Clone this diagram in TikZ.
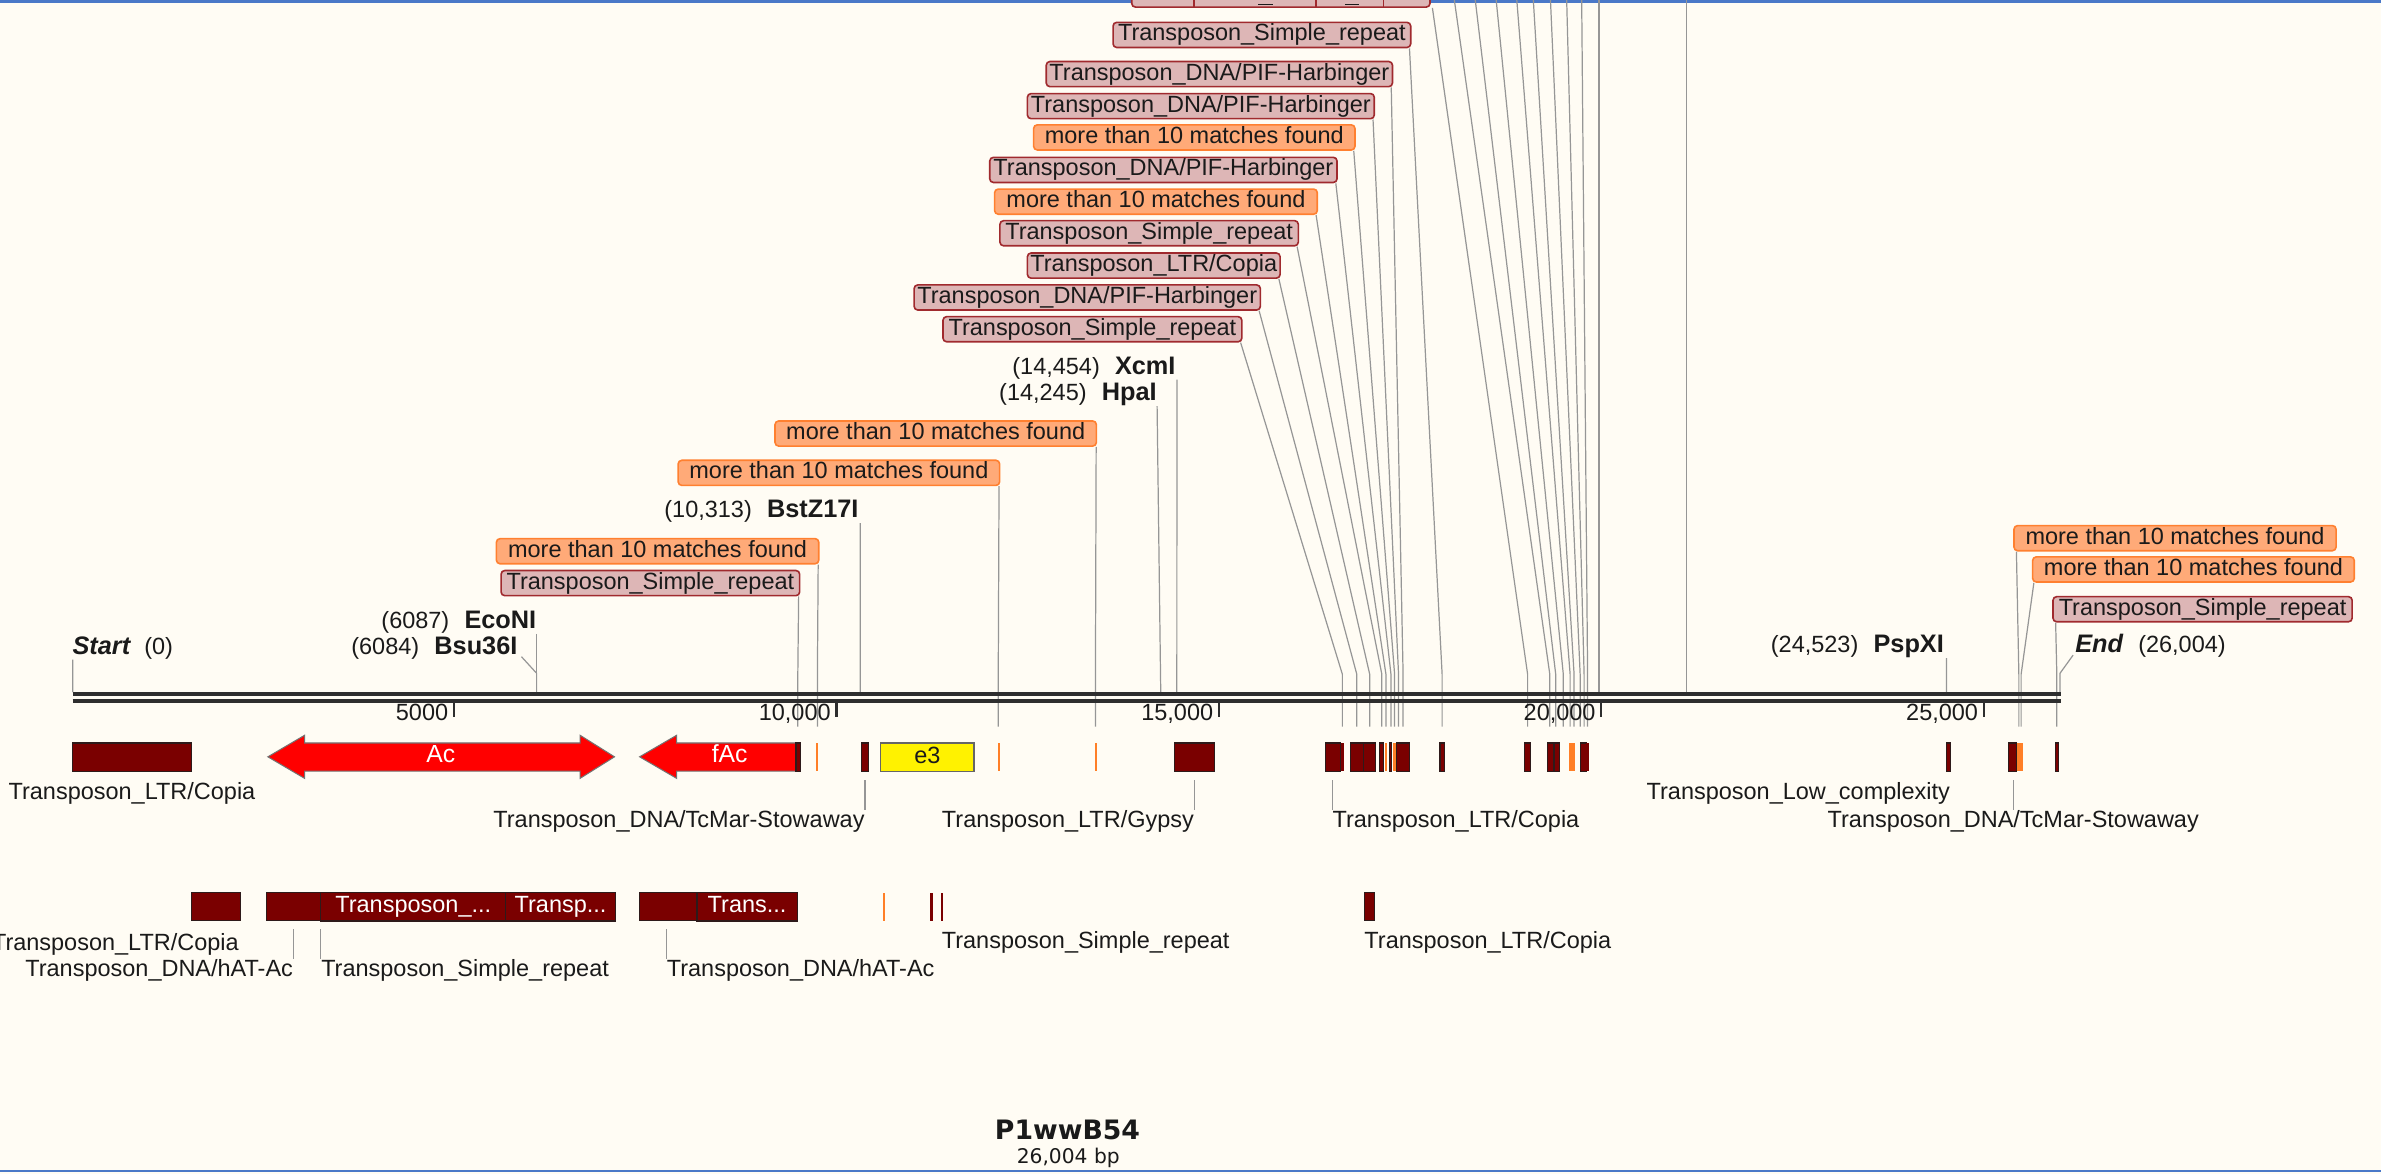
\documentclass[tikz,border=0pt]{standalone}
\usepackage{fontspec}
\setmainfont{Liberation Sans}
\newfontfamily\djvfont{DejaVu Sans}
\usetikzlibrary{calc}
\definecolor{bgc}{HTML}{FFFCF4}
\definecolor{frameblue}{HTML}{4A78C8}
\definecolor{pinkfill}{HTML}{DDB6B6}
\definecolor{pinkedge}{HTML}{A02A2E}
\definecolor{orfill}{HTML}{FFAA78}
\definecolor{oredge}{HTML}{FF8030}
\definecolor{darkred}{HTML}{7A0000}
\definecolor{darkedge}{HTML}{2E1A1A}
\definecolor{orbar}{HTML}{FF7F27}
\definecolor{leadgray}{HTML}{969696}
\definecolor{axisc}{HTML}{2E2E2E}
\definecolor{txt}{HTML}{1A1A1A}
\newcommand\lblsize{\fontsize{11.6}{13.5}\selectfont}
\newcommand\enzsize{\bfseries\fontsize{12.5}{14.5}\selectfont}
\newcommand\labbox[6]{\node[#5, minimum width={(#3-#2)*0.75pt}] (#1) at ({(#2+#3)/2},#4) {#6};}
\newcommand\leadto[3]{\coordinate (#1b) at (#3,444); \coordinate (#1e) at (#3,478.5); \draw[lead] (#2) -- (#1b) -- (#1e);}
\newcommand\ftA[2]{\path[fdark] (#1,489.3) rectangle (#2,508);}
\newcommand\ftAn[2]{\fill[darkred] (#1,489.3) rectangle (#2,508);}
\newcommand\ftAo[2]{\fill[orbar] (#1,489.3) rectangle (#2,508);}
\newcommand\ftB[2]{\path[fdark] (#1,587.8) rectangle (#2,606.5);}
\newcommand\ftBo[2]{\fill[orbar] (#1,587.8) rectangle (#2,606.5);}
\begin{document}
\begin{tikzpicture}[x=0.75pt,y=-0.75pt,
  every node/.style={font=\lblsize, text=txt, inner sep=0pt, text height=8.4pt, text depth=2.4pt},
  tbox/.style={draw=pinkedge, fill=pinkfill, line width=0.8pt, rounded corners=1.8pt, minimum height=12.4pt},
  obox/.style={draw=oredge, fill=orfill, line width=0.8pt, rounded corners=1.8pt, minimum height=12.4pt},
  fdbox/.style={draw=darkedge, fill=darkred, line width=0.6pt, minimum height=14pt, text=white},
  fdark/.style={fill=darkred, draw=darkedge, line width=0.5pt},
  lead/.style={draw=leadgray, line width=0.6pt},
  axisline/.style={draw=axisc, line width=2.1pt},
  tickline/.style={draw=axisc, line width=1.2pt},
  arrowc/.style={fill=red, draw=black!55, line width=0.5pt}
]
\useasboundingbox (0,0) rectangle (1568,773);
\clip (0,0) rectangle (1568,773);
\fill[bgc] (0,0) rectangle (1568,773);
\draw[frameblue, line width=1pt] (0,1) -- (1568,1);
\draw[frameblue, line width=1pt] (0,771.3) -- (1568,771.3);

% ---------- leaders from above ----------
\node[tbox, minimum width={196.4*0.75pt}] (T0) at (843.5,-3.6) {};
\draw[pinkedge, line width=0.8pt] (786.5,-12) -- (786.5,4.8);
\draw[pinkedge, line width=0.8pt] (866.6,-12) -- (866.6,4.8);
\draw[pinkedge, line width=0.8pt] (911,-12) -- (911,4.8);
\draw[txt, line width=0.9pt] (828.6,3) -- (838.4,3);
\draw[txt, line width=0.9pt] (885.7,3) -- (895,3);
\leadto{T0}{[xshift=0.8pt]T0.south east}{1006}
\coordinate (Ta) at (957.6,-1); \leadto{Ta}{Ta}{1020.6}
\coordinate (Tb) at (971.4,-1); \leadto{Tb}{Tb}{1024.5}
\coordinate (Tc) at (985.2,-1); \leadto{Tc}{Tc}{1029.5}
\coordinate (Td) at (998.8,-1); \leadto{Td}{Td}{1034}
\coordinate (Te) at (1009.7,-1); \leadto{Te}{Te}{1036.6}
\coordinate (Tf) at (1021,-1); \leadto{Tf}{Tf}{1040.6}
\coordinate (Tg) at (1031.7,-1); \leadto{Tg}{Tg}{1043.2}
\coordinate (Th) at (1041.6,-1); \leadto{Th}{Th}{1045.5}
\coordinate (Vt1) at (1053,-1); \coordinate (Vb1) at (1053,455.8);
\draw[lead] (Vt1) -- (Vb1);
\coordinate (Vt2) at (1110.5,-1); \coordinate (Vb2) at (1110.5,455.8);
\draw[lead] (Vt2) -- (Vb2);

% label boxes
\labbox{C10}{733}{929}{23}{tbox}{Transposon\_Simple\_repeat}
\labbox{C9}{689}{917}{48.8}{tbox}{Transposon\_DNA/PIF-Harbinger}
\labbox{C8}{676.6}{905}{69.9}{tbox}{Transposon\_DNA/PIF-Harbinger}
\labbox{C7}{680.7}{892.3}{90.5}{obox}{more than 10 matches found}
\labbox{C6}{651.8}{880.5}{111.9}{tbox}{Transposon\_DNA/PIF-Harbinger}
\labbox{C5}{655}{867.5}{132.8}{obox}{more than 10 matches found}
\labbox{C4}{658.5}{855}{153.6}{tbox}{Transposon\_Simple\_repeat}
\labbox{C3}{676.6}{843}{174.9}{tbox}{Transposon\_LTR/Copia}
\labbox{C2}{602}{830}{195.9}{tbox}{Transposon\_DNA/PIF-Harbinger}
\labbox{C1}{621}{817.8}{216.8}{tbox}{Transposon\_Simple\_repeat}
\labbox{L4}{510.4}{722}{285.5}{obox}{more than 10 matches found}
\labbox{L3}{446.6}{658.3}{311.4}{obox}{more than 10 matches found}
\labbox{L2}{326.9}{539.2}{363}{obox}{more than 10 matches found}
\labbox{L1}{330}{526.6}{384}{tbox}{Transposon\_Simple\_repeat}
\labbox{R1}{1326.3}{1538.4}{354.4}{obox}{more than 10 matches found}
\labbox{R2}{1338.6}{1550.4}{375}{obox}{more than 10 matches found}
\labbox{R3}{1352}{1549}{401.2}{tbox}{Transposon\_Simple\_repeat}

\leadto{C1}{[xshift=-1pt]C1.south east}{884}
\leadto{C2}{[xshift=-1pt]C2.south east}{893.5}
\leadto{C3}{[xshift=-1pt]C3.south east}{902}
\leadto{C4}{[xshift=-1pt]C4.south east}{910}
\leadto{C5}{[xshift=-1pt]C5.south east}{912.7}
\leadto{C6}{[xshift=-1pt]C6.south east}{916}
\leadto{C7}{[xshift=-1pt]C7.south east}{918.4}
\leadto{C8}{[xshift=-1pt]C8.south east}{921}
\leadto{C9}{[xshift=-1pt]C9.south east}{924}
\leadto{C10}{[xshift=-1pt]C10.south east}{949.7}
\leadto{L1}{[xshift=-0.9pt]L1.south east}{525.4}
\leadto{L2}{[xshift=-0.7pt]L2.south east}{538.3}
\leadto{L3}{[xshift=-0.7pt]L3.south east}{657.4}
\leadto{L4}{[xshift=-0.5pt]L4.south east}{721.4}
\leadto{R1}{[xshift=1.6pt]R1.south west}{1329.5}
\leadto{R2}{[xshift=1pt]R2.south west}{1331}
\leadto{R3}{[xshift=1.7pt]R3.south west}{1354.5}

% ---------- enzyme labels ----------
\node[anchor=west] (startlbl) at (47.5,427) {{\enzsize\itshape Start}\hspace{7pt}(0)};
\node[anchor=east] (eco) at (353.4,410) {(6087)\hspace{7.5pt}{\enzsize EcoNI}};
\node[anchor=east] (bsu) at (341,427) {(6084)\hspace{7.5pt}{\enzsize Bsu36I}};
\node[anchor=east] (bst) at (565.6,337) {(10,313)\hspace{7.5pt}{\enzsize BstZ17I}};
\node[anchor=east] (hpa) at (762,260) {(14,245)\hspace{7.5pt}{\enzsize HpaI}};
\node[anchor=east] (xcm) at (774.4,242.6) {(14,454)\hspace{7.5pt}{\enzsize XcmI}};
\node[anchor=east] (psp) at (1280.4,426) {(24,523)\hspace{7.5pt}{\enzsize PspXI}};
\node[anchor=west] (endlbl) at (1366.4,426) {{\enzsize\itshape End}\hspace{7.5pt}(26,004)};

\coordinate (aStart) at (47.9,455.8);
\coordinate (a6087) at (353.4,455.8);
\coordinate (k6084) at (353.4,443.4);
\coordinate (a10313) at (566.5,455.8);
\coordinate (a14245) at (764.4,455.8);
\coordinate (a14454) at (775,455.8);
\coordinate (a24523) at (1281.9,455.8);
\coordinate (kEnd) at (1356.6,443.4);
\coordinate (aEnd) at (1356.6,455.8);
\draw[lead] ([xshift=0.3pt]startlbl.south west) -- (aStart);
\draw[lead] (eco.south east) -- (a6087);
\draw[lead] ([xshift=1.8pt,yshift=1.5pt]bsu.south east) -- (k6084) -- (a6087);
\draw[lead] ([xshift=0.7pt]bst.south east) -- (a10313);
\draw[lead] (hpa.south east) -- (a14245);
\draw[lead] ([xshift=0.5pt]xcm.south east) -- (a14454);
\draw[lead] ([xshift=1.1pt]psp.south east) -- (a24523);
\draw[lead] ([xshift=-0.9pt,yshift=1.5pt]endlbl.south west) -- (kEnd) -- (aEnd);

% ---------- axis ----------
\draw[axisline] (47.9,456.8) -- (1357.2,456.8);
\draw[axisline] (47.9,461.8) -- (1357.2,461.8);
\foreach \tx/\tl [count=\ti] in {298.9/5000, 550.8/{10,000}, 802.7/{15,000}, 1054.5/{20,000}, 1306.4/{25,000}} {
  \draw[tickline] (\tx,462) -- (\tx,472.5);
  \node[anchor=east] (tick\ti) at (\tx-3.5,470.5) {\tl};
}

% ---------- feature row 1 ----------
\ftA{47.9}{126}
\path[arrowc] (176.4,498.4) -- (200.6,484.2) -- (200.6,489.3) -- (382,489.3) -- (382,484.2) -- (404.7,498.4) -- (382,512.6) -- (382,507.8) -- (200.6,507.8) -- (200.6,512.6) -- cycle;
\node[text=white, font=\fontsize{12.2}{14}\selectfont] (acLbl) at (290.3,498.4) {Ac};
\path[arrowc] (421.2,498.4) -- (445.6,484.2) -- (445.6,489.3) -- (524.2,489.3) -- (524.2,507.8) -- (445.6,507.8) -- (445.6,512.6) -- cycle;
\node[text=white, font=\fontsize{12.2}{14}\selectfont] (facLbl) at (480.5,498.4) {fAc};
\ftA{524.2}{527}
\ftAo{537.6}{539}
\ftA{567.5}{571.8}
\node[draw=black!60, fill=yellow, line width=0.6pt, minimum width={61.4*0.75pt}, minimum height={18.7*0.75pt}] (e3) at (610.7,498.65) {e3};
\ftAo{657}{658.4}
\ftAo{721}{722.4}
\ftA{773.6}{800}
\ftA{873}{882.5}
\ftAn{883.1}{885.3}
\ftA{889.5}{897.8}
\ftA{897.8}{905.9}
\ftA{908.3}{911}
\ftAo{912.1}{913.4}
\ftA{915}{916.5}
\ftAo{917.6}{919.1}
\ftA{919.8}{928.1}
\ftA{948.3}{951.2}
\ftA{1003.8}{1007.6}
\ftA{1019.2}{1022.9}
\ftA{1023.6}{1026.7}
\ftAo{1033.5}{1035}
\ftAo{1035.4}{1037.2}
\ftA{1040.9}{1044.5}
\ftAn{1044.5}{1046.2}
\ftA{1282}{1284.4}
\ftA{1322.4}{1328.1}
\ftAo{1328.1}{1331.9}
\ftA{1353.4}{1355.8}

% row 1 labels
\node (lCoA) at (86.9,522.4) {Transposon\_LTR/Copia};
\node[anchor=east] (lLow) at (1284.4,522.8) {Transposon\_Low\_complexity};
\coordinate (fTcA) at (569.6,513.7);
\node[anchor=east] (lTcA) at (569.6,541) {Transposon\_DNA/TcMar-Stowaway};
\draw[lead] (fTcA) -- (lTcA.north east);
\coordinate (fGy) at (786.5,513.7);
\node[anchor=east] (lGy) at (786.5,541) {Transposon\_LTR/Gypsy};
\draw[lead] (fGy) -- (lGy.north east);
\coordinate (fCoB) at (877.3,513.7);
\node[anchor=west] (lCoB) at (877.3,541) {Transposon\_LTR/Copia};
\draw[lead] (fCoB) -- (lCoB.north west);
\coordinate (fTcB) at (1325.8,513.7);
\node (lTcB) at (1325.8,541) {Transposon\_DNA/TcMar-Stowaway};
\draw[lead] (fTcB) -- (lTcB.north);

% ---------- feature row 2 ----------
\ftB{126}{158.3}
\ftB{175.6}{211.3}
\labbox{rbA}{211.3}{333}{597.15}{fdbox}{Transposon\_...}
\labbox{rbB}{333}{405.3}{597.15}{fdbox}{Transp...}
\ftB{421.2}{459}
\labbox{rbC}{459}{525}{597.15}{fdbox}{Trans...}
\ftBo{581.4}{582.8}
\fill[darkred] (612.3,587.8) rectangle (614.1,606.5);
\fill[darkred] (619.4,587.8) rectangle (621.2,606.5);
\ftB{898.3}{904.9}

% row 2 labels
\node[anchor=east] (lCoC) at (157.5,621.7) {Transposon\_LTR/Copia};
\node[anchor=west] (lSrB) at (620,620.6) {Transposon\_Simple\_repeat};
\node[anchor=west] (lCoD) at (898.3,620.6) {Transposon\_LTR/Copia};
\coordinate (fHa) at (193.2,612);
\node[anchor=east] (lHa) at (193.2,638.8) {Transposon\_DNA/hAT-Ac};
\draw[lead] (fHa) -- (lHa.north east);
\coordinate (fSr) at (211.3,612);
\node[anchor=west] (lSr) at (211.3,638.8) {Transposon\_Simple\_repeat};
\draw[lead] (fSr) -- (lSr.north west);
\coordinate (fHb) at (438.9,612);
\node[anchor=west] (lHb) at (438.9,638.8) {Transposon\_DNA/hAT-Ac};
\draw[lead] (fHb) -- (lHb.north west);

% ---------- title ----------
\node[font=\djvfont\bfseries\fontsize{13.2}{15}\selectfont, text height=9.6pt, text depth=0pt] (title) at (703,743.7) {P1wwB54};
\node[font=\djvfont\fontsize{10}{12}\selectfont] (subtitle) at (703.5,762.2) {26,004 bp};
\end{tikzpicture}
\end{document}
